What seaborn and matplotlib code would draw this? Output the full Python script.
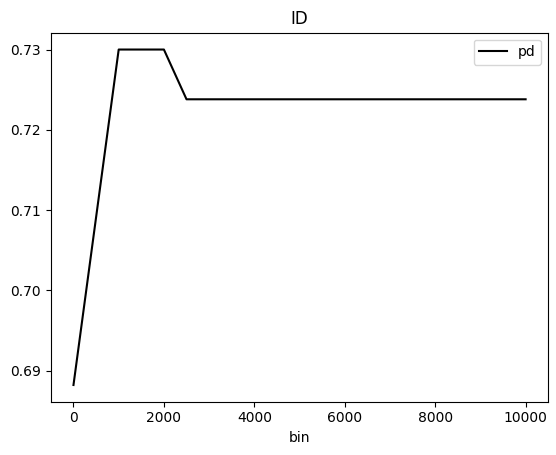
import pandas as pd
import matplotlib
matplotlib.use('Agg')
import matplotlib.pyplot as plt
import seaborn as sns

# bin -> pd value
bins = [0, 1000, 1500, 2000, 2500, 3000, 4000, 5000, 6000, 7000, 8000, 9000, 10000]
pd_vals = [0.6882, 0.7300, 0.7300, 0.7300, 0.7238, 0.7238, 0.7238, 0.7238,
           0.7238, 0.7238, 0.7238, 0.7238, 0.7238]

df = pd.DataFrame({'bin': bins, 'pd': pd_vals})

fig, ax = plt.subplots(figsize=(5.56, 4.55), dpi=100)
sns.lineplot(data=df, x='bin', y='pd', color='black', label='pd', ax=ax)
ax.set_title('ID')
ax.set_xlabel('bin')
ax.set_ylabel('')
ax.legend(loc='upper right')
plt.subplots_adjust(left=0.0915, right=0.986, top=0.928, bottom=0.117)
plt.savefig('out.png')
